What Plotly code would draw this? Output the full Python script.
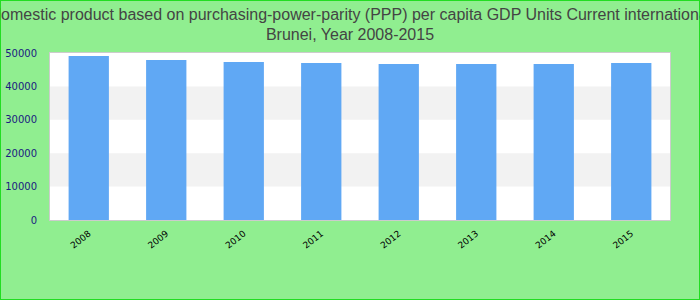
import plotly.graph_objects as go

years = ["2008", "2009", "2010", "2011", "2012", "2013", "2014", "2015"]
gdp_ppp = [49100, 47900, 47300, 47000, 46700, 46700, 46700, 47000]
y_ticks = [0, 10000, 20000, 30000, 40000, 50000]

title_text = ("Gross domestic product based on purchasing-power-parity (PPP) per capita GDP Units Current international dollar"
              "<br>Brunei, Year 2008-2015")

fig = go.Figure()
fig.add_trace(go.Bar(x=years, y=gdp_ppp, marker=dict(color="#60a8f4", line=dict(width=0)), width=0.52))

# alternating horizontal bands
shapes = []
for i in range(len(y_ticks) - 1):
    if i % 2 == 1:
        shapes.append(dict(type="rect", xref="paper", yref="y", x0=0, x1=1,
                           y0=y_ticks[i], y1=y_ticks[i + 1], fillcolor="#f2f2f2",
                           line=dict(width=0), layer="below"))
# outer figure border
shapes.append(dict(type="rect", xref="paper", yref="paper", x0=-50/620, x1=1 + 30/620,
                   y0=-80/167, y1=1 + 53/167, line=dict(color="#22dd22", width=2),
                   fillcolor="rgba(0,0,0,0)"))

fig.update_layout(
    width=700, height=300,
    margin=dict(l=50, r=30, t=53, b=80, autoexpand=False),
    paper_bgcolor="#90ee90",
    plot_bgcolor="#ffffff",
    showlegend=False,
    shapes=shapes,
    title=dict(text=title_text, x=0.5, xanchor="center", y=0.935, yanchor="top",
               font=dict(family="Liberation Sans, Arial, sans-serif", size=16, color="#444444")),
    xaxis=dict(tickangle=-38, tickfont=dict(family="DejaVu Sans", size=9, color="#000000"),
               ticklabelstandoff=4, automargin=False,
               showgrid=False, showline=True, linecolor="#cccccc", mirror=True, ticks=""),
    yaxis=dict(range=[0, 50000], tickvals=y_ticks, tickformat="d",
               tickfont=dict(family="DejaVu Sans", size=10, color="#1a1a80"),
               ticklabelstandoff=10, automargin=False,
               showgrid=False, showline=True, linecolor="#cccccc", mirror=True, zeroline=False, ticks=""),
    bargap=0.48,
)

fig.write_html("out.html")
